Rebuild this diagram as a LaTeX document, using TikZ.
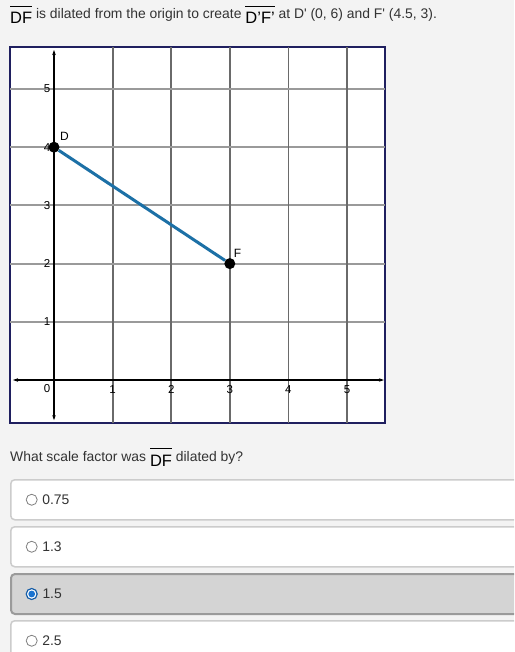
\documentclass[tikz,border=0pt]{standalone}
\usepackage{fontspec}
\setmainfont{Liberation Sans}[Ligatures=TeXOff]
\usetikzlibrary{arrows.meta}

\definecolor{pagebg}{HTML}{F3F3F3}
\definecolor{textgrey}{HTML}{333333}
\definecolor{framenavy}{HTML}{1F1F5F}
\definecolor{vgrid}{HTML}{6A6A6A}
\definecolor{hgrid}{HTML}{9A9A9A}
\definecolor{segblue}{HTML}{1C70A6}
\definecolor{boxline}{HTML}{CCCCCC}
\definecolor{pickfill}{HTML}{D4D4D4}
\definecolor{pickline}{HTML}{9A9A9A}
\definecolor{radioblue}{HTML}{1A73D0}

% overlined segment name, set a bit larger and lower than the prose
\newcommand{\segname}[1]{\raisebox{-5pt}{\color{black}$\overline{\hbox{\fontsize{16.5}{16.5}\selectfont\rule{0pt}{16pt}#1}}$}}

\tikzset{
  vline/.style={vgrid, line width=1.8pt},
  hline/.style={hgrid, line width=1.8pt},
  axisline/.style={black, line width=1.5pt, {Stealth[length=5pt,width=3.5pt]}-{Stealth[length=5pt,width=3.5pt]}},
  ticklabel/.style={font=\fontsize{11.5}{11.5}\selectfont, inner sep=0pt},
  dot/.style={circle, fill=black, minimum size=11pt, inner sep=0pt},
  ptlabel/.style={font=\fontsize{12}{12}\selectfont, inner sep=0pt},
  prose/.style={font=\fontsize{13.9}{13.9}\selectfont, text=textgrey, inner sep=0pt, anchor=base west},
  choice/.style={draw=boxline, fill=white, line width=1.5pt, rounded corners=4pt,
    anchor=north west, minimum width=530pt, minimum height=40pt},
  picked/.style={choice, draw=pickline, fill=pickfill, line width=2pt},
  radio/.style={circle, draw=gray, fill=white, line width=0.8pt, minimum size=11pt, inner sep=0pt},
  radio on/.style={radio, draw=radioblue!80!black, line width=1.2pt,
    path picture={\fill[radioblue] (path picture bounding box.center) circle (3.4pt);}},
}

\begin{document}
\begin{tikzpicture}[x=1pt, y=-1pt]
	\useasboundingbox (0,0) rectangle (514,652);
	\clip (0,0) rectangle (514,652);
	\fill[pagebg] (0,0) rectangle (514,652);

	% Question text above the graph
	\node[prose] (title) at (10,19) {\segname{DF} is dilated from the origin to create \segname{D’F’} at D' (0, 6) and F' (4.5, 3).};

	% Graph frame
	\draw[framenavy, line width=2pt, fill=white] (10,47) rectangle (385,423);

	\begin{scope}[shift={(54pt,-380pt)}, x=58.6pt, y=58.2pt]
		% Grid lines
		\foreach \i in {1,...,5} {
			\draw[hline] (-0.75,\i) -- (5.65,\i);
			\draw[vline] (\i,-0.74) -- (\i,5.72);
		}
		% Axes with arrows at both ends
		\draw[axisline] (-0.70,0) -- (5.63,0);
		\draw[axisline] (0,-0.69) -- (0,5.67);
		% Axis numbers
		\node[ticklabel] (n0) at (-0.12,-0.14) {0};
		\foreach \i in {1,...,5} {
			\node[ticklabel] (x\i) at (\i,-0.16) {\i};
			\node[ticklabel] (y\i) at (-0.12,\i) {\i};
		}
		% Segment DF with its end points
		\node[dot] (D) at (0,4) {};
		\node[dot] (F) at (3,2) {};
		\draw[segblue, line width=3pt] (D) -- (F);
		\node[ptlabel] (Dlab) at (0.18,4.19) {D};
		\node[ptlabel] (Flab) at (3.13,2.17) {F};
	\end{scope}

	% Question and answer choices
	\node[prose] (ask) at (10,461) {What scale factor was \segname{DF} dilated by?};

	\node[choice] (box1) at (10,479) {};
	\node[radio] (r1) at ([xshift=21.7pt]box1.west) {};
	\node[prose, anchor=west] (t1) at ([xshift=4.5pt]r1.east) {0.75};

	\node[choice] (box2) at (10,526) {};
	\node[radio] (r2) at ([xshift=21.7pt]box2.west) {};
	\node[prose, anchor=west] (t2) at ([xshift=4.5pt]r2.east) {1.3};

	\node[picked] (box3) at (10,573) {};
	\node[radio on] (r3) at ([xshift=21.7pt]box3.west) {};
	\node[prose, anchor=west] (t3) at ([xshift=4.5pt]r3.east) {1.5};

	\node[choice] (box4) at (10,620) {};
	\node[radio] (r4) at ([xshift=21.7pt]box4.west) {};
	\node[prose, anchor=west] (t4) at ([xshift=4.5pt]r4.east) {2.5};
\end{tikzpicture}
\end{document}
